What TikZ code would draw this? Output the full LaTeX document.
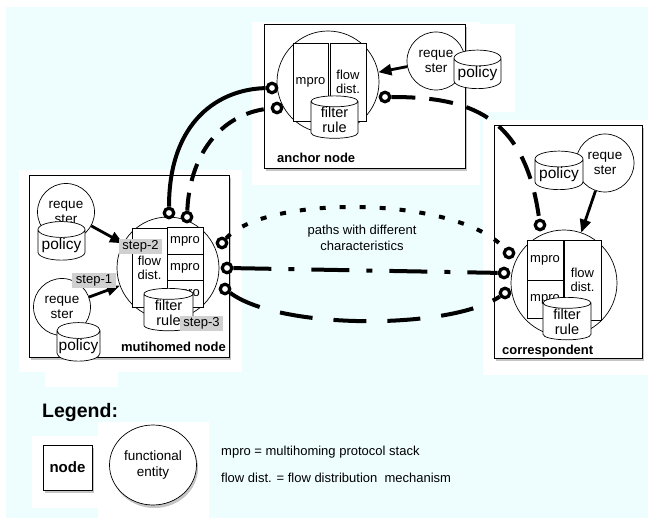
\documentclass[tikz,border=0pt]{standalone}
\usepackage{fontspec}
\setmainfont{Liberation Sans}
\usetikzlibrary{shapes.geometric,arrows.meta,shadows}
\definecolor{paper}{RGB}{238,254,255}
\definecolor{tagfill}{RGB}{208,208,208}
\pgfdeclarelayer{front}
\pgfsetlayers{main,front}

\begin{document}
\begin{tikzpicture}[x=1pt, y=-1pt,
    hostbox/.style={draw, fill=white, line width=0.9pt, inner sep=0pt,
      drop shadow={shadow xshift=1.5pt, shadow yshift=-3pt, opacity=0.45}},
    hosttitle/.style={font=\fontsize{13}{15}\selectfont\bfseries, inner sep=0pt},
    entity/.style={draw, circle, fill=white, line width=0.7pt, inner sep=0pt},
    requester/.style={entity, minimum size=57, align=center, font=\fontsize{13.5}{15}\selectfont},
    part/.style={draw, fill=white, line width=0.7pt, inner sep=0pt, align=center,
      font=\fontsize{13}{14}\selectfont},
    store/.style={draw, fill=white, line width=0.7pt, cylinder, shape border rotate=90,
      aspect=0.4, inner sep=0pt, align=center},
    port/.style={draw, circle, fill=white, line width=3.2pt, minimum size=9.5, inner sep=0pt},
    link/.style={line width=4pt},
    feed/.style={line width=2.8pt, -{Triangle[length=13pt, width=11pt]}},
    steptag/.style={fill=tagfill, inner xsep=3.5pt, inner ysep=1.5pt, font=\fontsize{13}{14}\selectfont},
    note/.style={font=\fontsize{13}{15.5}\selectfont, inner sep=0pt}]
  \useasboundingbox (0,0) rectangle (654,529);
  \fill[paper] (6,7) rectangle (648,518);
  % white patches round the boxes
  \fill[white] (19,170) rectangle (242,372);
  \fill[white] (45,360) rectangle (118,387);
  \fill[white] (252,22) rectangle (480,185);
  \fill[white] (452,24) rectangle (515,112);
  \fill[white] (483,120) rectangle (650,375);
  \fill[white] (32,436) rectangle (98,508);
  \fill[white] (98,422) rectangle (209,519);

  % multihomed node
  \node[hostbox, minimum width=200, minimum height=182] (mhbox) at (129,266) {};
  \node[entity, minimum size=102] (mstack) at (168,268) {};
  \node[part, minimum width=35, minimum height=79] (mflow) at (149.5,267.5) {flow\\dist.};
  \node[part, minimum width=36, minimum height=26.3] (mmpro1) at (185,241) {mpro};
  \node[part, minimum width=36, minimum height=26.3] (mmpro2) at (185,268) {mpro};
  \node[part, minimum width=36, minimum height=26.3] (mmpro3) at (185,294) {mpro};
  \node[store, minimum width=49, minimum height=35, font=\fontsize{14.5}{15}\selectfont] (mfilter) at (168.5,312.5) {filter\\rule};
  \node[requester] (mreq1) at (66,212) {reque\\ster};
  \node[store, minimum width=47, minimum height=30, font=\fontsize{15.5}{16}\selectfont] (mpol1) at (61.5,245) {policy};
  \node[requester] (mreq2) at (62,307) {reque\\ster};
  \node[store, minimum width=43, minimum height=38, font=\fontsize{15.5}{16}\selectfont] (mpol2) at (78.5,346) {policy};
  \draw[feed] (mreq1) -- (mstack);
  \draw[feed] (mreq2) -- (mstack);
  \node[hosttitle, anchor=base east] (mhtitle) at (226,352) {mutihomed node};
  \node[steptag] (step1) at (94,280.5) {step-1};
  \node[steptag] (step2) at (140.5,246.5) {step-2};
  \node[steptag] (step3) at (201.5,323.5) {step-3};

  % anchor node
  \node[hostbox, minimum width=201, minimum height=144] (anbox) at (364.5,96) {};
  \node[hosttitle, anchor=base west] (antitle) at (277,163) {anchor node};
  \node[entity, minimum size=102] (astack) at (328,82) {};
  \node[part, minimum width=35, minimum height=78] (ampro) at (310.5,82) {mpro};
  \node[part, minimum width=36, minimum height=78] (aflow) at (348,82) {flow\\dist.};
  \node[store, minimum width=47, minimum height=34, font=\fontsize{14.5}{15}\selectfont] (afilter) at (334.5,120) {filter\\rule};
  \node[requester, minimum size=58] (areq) at (436,61) {reque\\ster};
  \node[store, minimum width=47, minimum height=37, font=\fontsize{15.5}{16}\selectfont] (apol) at (477.5,73.5) {policy};
  \draw[feed] (areq) -- (astack);

  % correspondent
  \node[hostbox, minimum width=148, minimum height=233] (cobox) at (568,241.5) {};
  \node[hosttitle, anchor=base west] (cotitle) at (502,355) {correspondent};
  \node[entity, minimum size=106] (cstack) at (564,283) {};
  \node[part, minimum width=36, minimum height=40] (cmpro1) at (545,260) {mpro};
  \node[part, minimum width=36, minimum height=38] (cmpro2) at (545,299) {mpro};
  \node[part, minimum width=37, minimum height=80] (cflow) at (582.5,280) {flow\\dist.};
  \node[store, minimum width=48, minimum height=37, font=\fontsize{14.5}{15}\selectfont] (cfilter) at (567,321.5) {filter\\rule};
  \node[requester, minimum size=58] (creq) at (605,163) {reque\\ster};
  \node[store, minimum width=48, minimum height=35, font=\fontsize{15.5}{16}\selectfont] (cpol) at (559,174.5) {policy};
  \draw[feed] (creq) -- (cstack);

  % attachment points
  \begin{pgfonlayer}{front}
    \node[port] (mport1) at (169,213) {};
    \node[port] (mport2) at (187,217) {};
    \node[port] (mport3) at (222,243) {};
    \node[port] (mport4) at (227,268) {};
    \node[port] (mport5) at (225,289) {};
    \node[port] (aport1) at (272,88) {};
    \node[port] (aport2) at (277,108) {};
    \node[port] (aport3) at (385,97) {};
    \node[port] (cport1) at (540,225) {};
    \node[port] (cport2) at (509,253) {};
    \node[port] (cport3) at (504,273) {};
    \node[port] (cport4) at (505,293) {};
  \end{pgfonlayer}

  % paths
  \draw[link] (mport1) .. controls (169,120) and (220,89) .. (aport1);
  \draw[link, dash pattern=on 18pt off 12pt] (mport2) .. controls (190,150) and (225,112) .. (aport2);
  \draw[link, dash pattern=on 24pt off 14pt] (aport3) .. controls (470,97) and (525,115) .. (cport1);
  \draw[link, dash pattern=on 6pt off 14pt] (mport3) .. controls (265,195) and (455,195) .. (cport2);
  \draw[link, dash pattern=on 38pt off 17pt on 6pt off 17pt] (mport4) -- (cport3);
  \draw[link, dash pattern=on 33pt off 21pt] (mport5) .. controls (280,330) and (450,330) .. (cport4);
  \node[note, align=center] (pathlbl) at (362,238) {paths with different\\characteristics};

  % legend
  \node[anchor=west, inner sep=0pt, font=\fontsize{19.5}{22}\selectfont\bfseries] (legend) at (42,413) {Legend:};
  \node[hostbox, minimum width=49, minimum height=45, font=\fontsize{15}{17}\selectfont\bfseries] (keynode) at (67.5,467.5) {node};
  \node[draw, ellipse, fill=white, line width=0.7pt, minimum width=87, minimum height=80, inner sep=0pt,
    align=center, font=\fontsize{13.5}{15.5}\selectfont,
    drop shadow={shadow xshift=1.5pt, shadow yshift=-3pt, opacity=0.45}] (keyentity) at (153,465) {functional\\entity};
  \node[note, anchor=west] (keympro) at (221,452) {mpro = multihoming protocol stack};
  \node[note, anchor=west] (keyflow) at (221,478) {flow dist. = flow distribution\ \ mechanism};
\end{tikzpicture}
\end{document}
